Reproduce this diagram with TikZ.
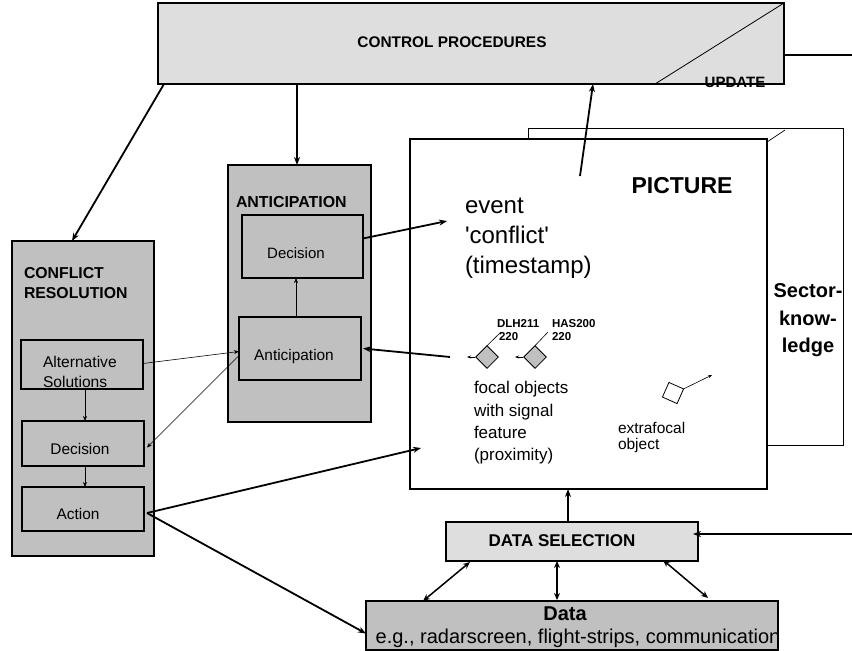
\documentclass[tikz,border=0pt]{standalone}
\usepackage{fontspec}
\setmainfont{Liberation Sans}[Ligatures=TeXOff]
\usetikzlibrary{arrows.meta}
\definecolor{lg}{HTML}{DEDEDE}
\definecolor{mg}{HTML}{C0C0C0}
\newcommand\fsz[1]{\fontsize{#1}{#1}\selectfont}
\begin{document}
\begin{tikzpicture}[x=1pt,y=-1pt,
  every node/.style={inner sep=0pt, outer sep=0pt},
  bx/.style={draw, line width=1.1pt, anchor=north west, inner sep=0pt},
  thk/.style={line width=1.8pt, -{Stealth[length=8pt,width=6pt]}},
  thn/.style={line width=0.6pt, -{Stealth[length=5pt,width=4pt]}},
  tiny/.style={line width=0.6pt, -{Stealth[length=4pt,width=3pt]}},
  dbl/.style={line width=1.5pt, {Stealth[length=7pt,width=6pt]}-{Stealth[length=7pt,width=6pt]}},
  lbl/.style={anchor=base west},
  ]
\useasboundingbox (0,0) rectangle (852,651);

% CONTROL PROCEDURES
\node[bx, fill=lg, minimum width=626, minimum height=81] (ctrl) at (158,3) {};
\node[font=\bfseries\fsz{15.4}] (ctrlt) at (452,42) {CONTROL PROCEDURES};
\coordinate (upd1) at (655,84);
\draw[line width=0.8pt] (upd1) -- (ctrl.north east);
\node[anchor=base, font=\bfseries\fsz{15}] (updt) at (735,87) {UPDATE};
\coordinate (r1) at (852,55);
\draw[line width=1.8pt] (ctrl.east |- r1) -- (r1);

% PICTURE and sector knowledge
\node[bx, fill=white, line width=0.9pt, minimum width=315, minimum height=317] (back) at (528,128) {};
\node[bx, fill=white, minimum width=357, minimum height=350] (pic) at (410,139) {};
\coordinate (persp) at (785,130);
\draw[line width=0.7pt] ([yshift=-3pt]pic.north east) -- (persp);
\node[font=\bfseries\fsz{23}] (pict) at (682,186) {PICTURE};
\node[lbl, font=\fsz{24}] (ev1) at (465,213) {event};
\node[lbl, font=\fsz{24}] (ev2) at (465,243) {'conflict'};
\node[lbl, font=\fsz{24}] (ev3) at (465,273) {(timestamp)};
\node[anchor=base, font=\bfseries\fsz{20}] (sk1) at (808,297) {Sector-};
\node[anchor=base, font=\bfseries\fsz{20}] (sk2) at (808,325) {know-};
\node[anchor=base, font=\bfseries\fsz{20}] (sk3) at (808,352) {ledge};

% focal objects
\node[draw, fill=mg, line width=0.8pt, minimum size=16, rotate=45] (d1) at (487,357) {};
\node[draw, fill=mg, line width=0.8pt, minimum size=16, rotate=45] (d2) at (535,357) {};
\coordinate (a1s) at (475,357); \coordinate (a1e) at (467,357);
\coordinate (a2s) at (523,357); \coordinate (a2e) at (515,357);
\draw[tiny] (a1s) -- (a1e);
\draw[tiny] (a2s) -- (a2e);
\coordinate (l1) at (501,332); \coordinate (l2) at (548,332);
\draw[line width=0.6pt] (d1.north east) -- (l1);
\draw[line width=0.6pt] (d2.north east) -- (l2);
\node[lbl, font=\bfseries\fsz{11.5}] (dlh1) at (497,327) {DLH211};
\node[lbl, font=\bfseries\fsz{11.5}] (dlh2) at (499,340) {220};
\node[lbl, font=\bfseries\fsz{11.5}] (has1) at (552,327) {HAS200};
\node[lbl, font=\bfseries\fsz{11.5}] (has2) at (552,340) {220};
\node[lbl, font=\fsz{17}] (fo1) at (474,393) {focal objects};
\node[lbl, font=\fsz{17}] (fo2) at (474,416) {with signal};
\node[lbl, font=\fsz{17}] (fo3) at (474,438) {feature};
\node[lbl, font=\fsz{17}] (fo4) at (474,460) {(proximity)};

% extrafocal
\node[draw, fill=white, line width=0.8pt, minimum size=16, rotate=-24] (xf) at (673,393) {};
\coordinate (xfe) at (712,375);
\draw[tiny] (xf.north east) -- (xfe);
\node[lbl, font=\fsz{15.5}] (xf1) at (618,433) {extrafocal};
\node[lbl, font=\fsz{15.5}] (xf2) at (618,449) {object};

% ANTICIPATION
\node[bx, fill=mg, minimum width=143, minimum height=257] (antbox) at (228,165) {};
\node[anchor=west, font=\bfseries\fsz{15.9}] (antt) at (236,202) {ANTICIPATION};
\node[bx, fill=mg, minimum width=121, minimum height=63] (adec) at (242,215) {};
\node[font=\fsz{15}] (adect) at (296,253) {Decision};
\node[bx, fill=mg, minimum width=122, minimum height=63] (aant) at (239,317) {};
\node[font=\fsz{15.4}] (aantt) at (294,357) {Anticipation};
\draw[thn] (aant.north -| adect) -- (adec.south -| adect);

% CONFLICT RESOLUTION
\node[bx, fill=mg, minimum width=142, minimum height=315] (conf) at (12,241) {};
\node[anchor=west, font=\bfseries\fsz{15.8}] (conft1) at (24,273) {CONFLICT};
\node[anchor=west, font=\bfseries\fsz{15.8}] (conft2) at (24,293) {RESOLUTION};
\node[bx, fill=mg, minimum width=122, minimum height=49] (alt) at (21,340) {};
\node[anchor=west, font=\fsz{15.6}] (altt1) at (43,362) {Alternative};
\node[anchor=west, font=\fsz{15.6}] (altt2) at (43,382) {Solutions};
\node[bx, fill=mg, minimum width=122, minimum height=45] (cdec) at (22,421) {};
\node[font=\fsz{15.4}] (cdect) at (80,449) {Decision};
\node[bx, fill=mg, minimum width=122, minimum height=44] (act) at (22,487) {};
\node[font=\fsz{15.4}] (actt) at (78,514) {Action};
\coordinate (cx) at (85,0);
\draw[thn] (alt.south -| cx) -- (cdec.north -| cx);
\draw[thn] (cdec.south -| cx) -- (act.north -| cx);
\draw[thn] ([yshift=1pt]alt.east) -- ([yshift=-3pt]aant.west);
\draw[thn] ([yshift=-7pt]aant.west) -- ([xshift=3pt,yshift=-4pt]cdec.east);

% DATA SELECTION and Data
\node[bx, fill=lg, minimum width=252, minimum height=39] (dsel) at (446,522) {};
\node[font=\bfseries\fsz{17}] (dselt) at (562,541) {DATA SELECTION};
\node[bx, fill=mg, minimum width=412, minimum height=49] (data) at (366,601) {};
\node[font=\bfseries\fsz{20}] (datat1) at (565,614) {Data};
\node[font=\fsz{20}] (datat2) at (578,638) {e.g., radarscreen, flight-strips, communication};

% main connectors
\coordinate (ux) at (593,0);
\coordinate (pt) at (580,176);
\draw[thk] (pt) -- (ctrl.south -| ux);
\coordinate (ax) at (297,0);
\draw[thk] (ctrl.south -| ax) -- (antbox.north -| ax);
\draw[thk] ([xshift=6pt]ctrl.south west) -- ([xshift=-11pt]conf.north);
\coordinate (evtip) at (447,221);
\draw[thk] ([yshift=8pt]adec.east) -- (evtip);
\coordinate (ptail) at (450,357);
\draw[thk] (ptail) -- ([xshift=2pt]aant.east);
\coordinate (pictip) at (421,448);
\draw[thk] ([xshift=3pt,yshift=-4pt]act.east) -- (pictip);
\draw[thk] ([xshift=3pt,yshift=-4pt]act.east) -- ([yshift=-8pt]data.west);
\coordinate (sx) at (568,0);
\draw[thk] (dsel.north -| sx) -- (pic.south -| sx);
\coordinate (r2) at (852,534);
\draw[thk] (r2) -- ([xshift=-5pt]dsel.east |- r2);
\coordinate (b1) at (470,562); \coordinate (b2) at (423,601);
\coordinate (b3) at (557,561); \coordinate (b4) at (557,600);
\coordinate (b5) at (663,560); \coordinate (b6) at (708,598);
\draw[dbl] (b1) -- (b2);
\draw[dbl] (b3) -- (b4);
\draw[dbl] (b5) -- (b6);
\end{tikzpicture}
\end{document}
